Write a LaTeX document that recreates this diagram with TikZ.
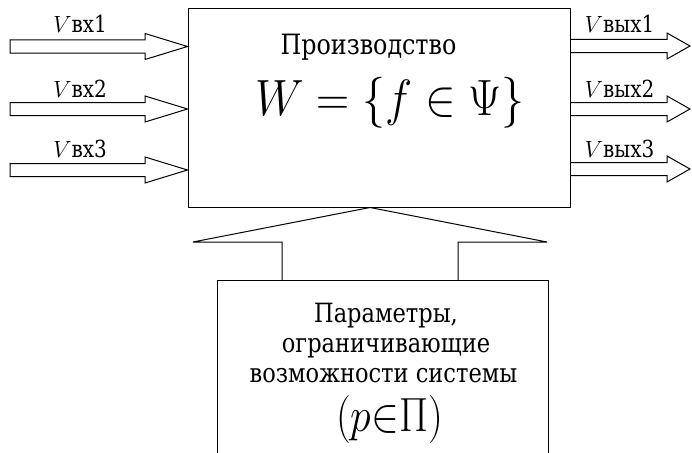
\RequirePackage{fix-cm}
\documentclass[tikz,border=0pt]{standalone}
\usepackage{fontspec}
\setmainfont{DejaVu Serif}[FakeStretch=0.85]
\usepackage{graphicx}
\begin{document}
\begin{tikzpicture}[x=1pt,y=-1pt,
  box/.style={draw,line width=1pt,inner sep=0pt},
  blk/.style={draw,line width=1pt,line join=miter},
  lbl/.style={font=\fontsize{23.5}{27}\selectfont,inner sep=0pt,anchor=base},
  btxt/.style={font=\fontsize{26.5}{30}\selectfont,inner sep=0pt,anchor=base,text depth=0pt}]
\useasboundingbox (0,0) rectangle (692,452);
\clip (0,0) rectangle (692,452);
% boxes
\node[box,minimum width=382pt,minimum height=198pt] (main) at (379,108) {};
\node[box,minimum width=331pt,minimum height=190pt,anchor=north] (bot) at (382.5,280) {};
% input arrows
\foreach \y/\n in {46.5/1,109/2,170/3}{
  \coordinate (inTip\n) at (main.west |- 0,\y);
  \draw[blk] (10,\y-6.5) -- (145,\y-6.5) -- (145,\y-13) -- (inTip\n)
     -- (145,\y+13) -- (145,\y+6.5) -- (10,\y+6.5) -- cycle;
}
% output arrows
\foreach \y/\n in {46/1,109/2,169/3}{
  \coordinate (outTop\n) at (main.east |- 0,\y-6.5);
  \coordinate (outBot\n) at (main.east |- 0,\y+6.5);
  \draw[blk] (outTop\n) -- (667,\y-6.5) -- (667,\y-13) -- (690,\y)
     -- (667,\y+13) -- (667,\y+6.5) -- (outBot\n);
}
% big arrow up
\coordinate (bigTip) at (main.south -| 370,0);
\draw[blk] (bot.north -| 282,0) -- (282,242) -- (193,242) -- (bigTip)
   -- (547,242) -- (458,242) -- (bot.north -| 458,0);
% labels
\node[lbl] (lin1) at (80,33) {$V$вх1};
\node[lbl] (lin2) at (80,97) {$V$вх2};
\node[lbl] (lin3) at (80,157) {$V$вх3};
\node[lbl] (lout1) at (619.5,33) {$V$вых1};
\node[lbl] (lout2) at (619.5,97) {$V$вых2};
\node[lbl] (lout3) at (619.5,157) {$V$вых3};
% main text
\node[font=\fontsize{28}{32}\selectfont,inner sep=0pt,anchor=base] (title) at (368.5,54) {Производство};
\node[font=\fontsize{51}{55}\selectfont,inner sep=0pt,anchor=base] (formula) at (390,115)
  {\scalebox{0.9}[1]{$W=\{f\in\Psi\}$}};
% bottom text
\node[btxt] (pt1) at (386,322) {Параметры,};
\node[btxt] (pt2) at (386,352) {ограничивающие};
\node[btxt] (pt3) at (383.5,382) {возможности системы};
\node[font=\fontsize{48}{52}\selectfont,inner sep=0pt,anchor=base,text height=34pt] (pform) at (389.5,431)
  {\scalebox{0.87}[1]{$(p{\in}\Pi)$}};
\end{tikzpicture}
\end{document}
